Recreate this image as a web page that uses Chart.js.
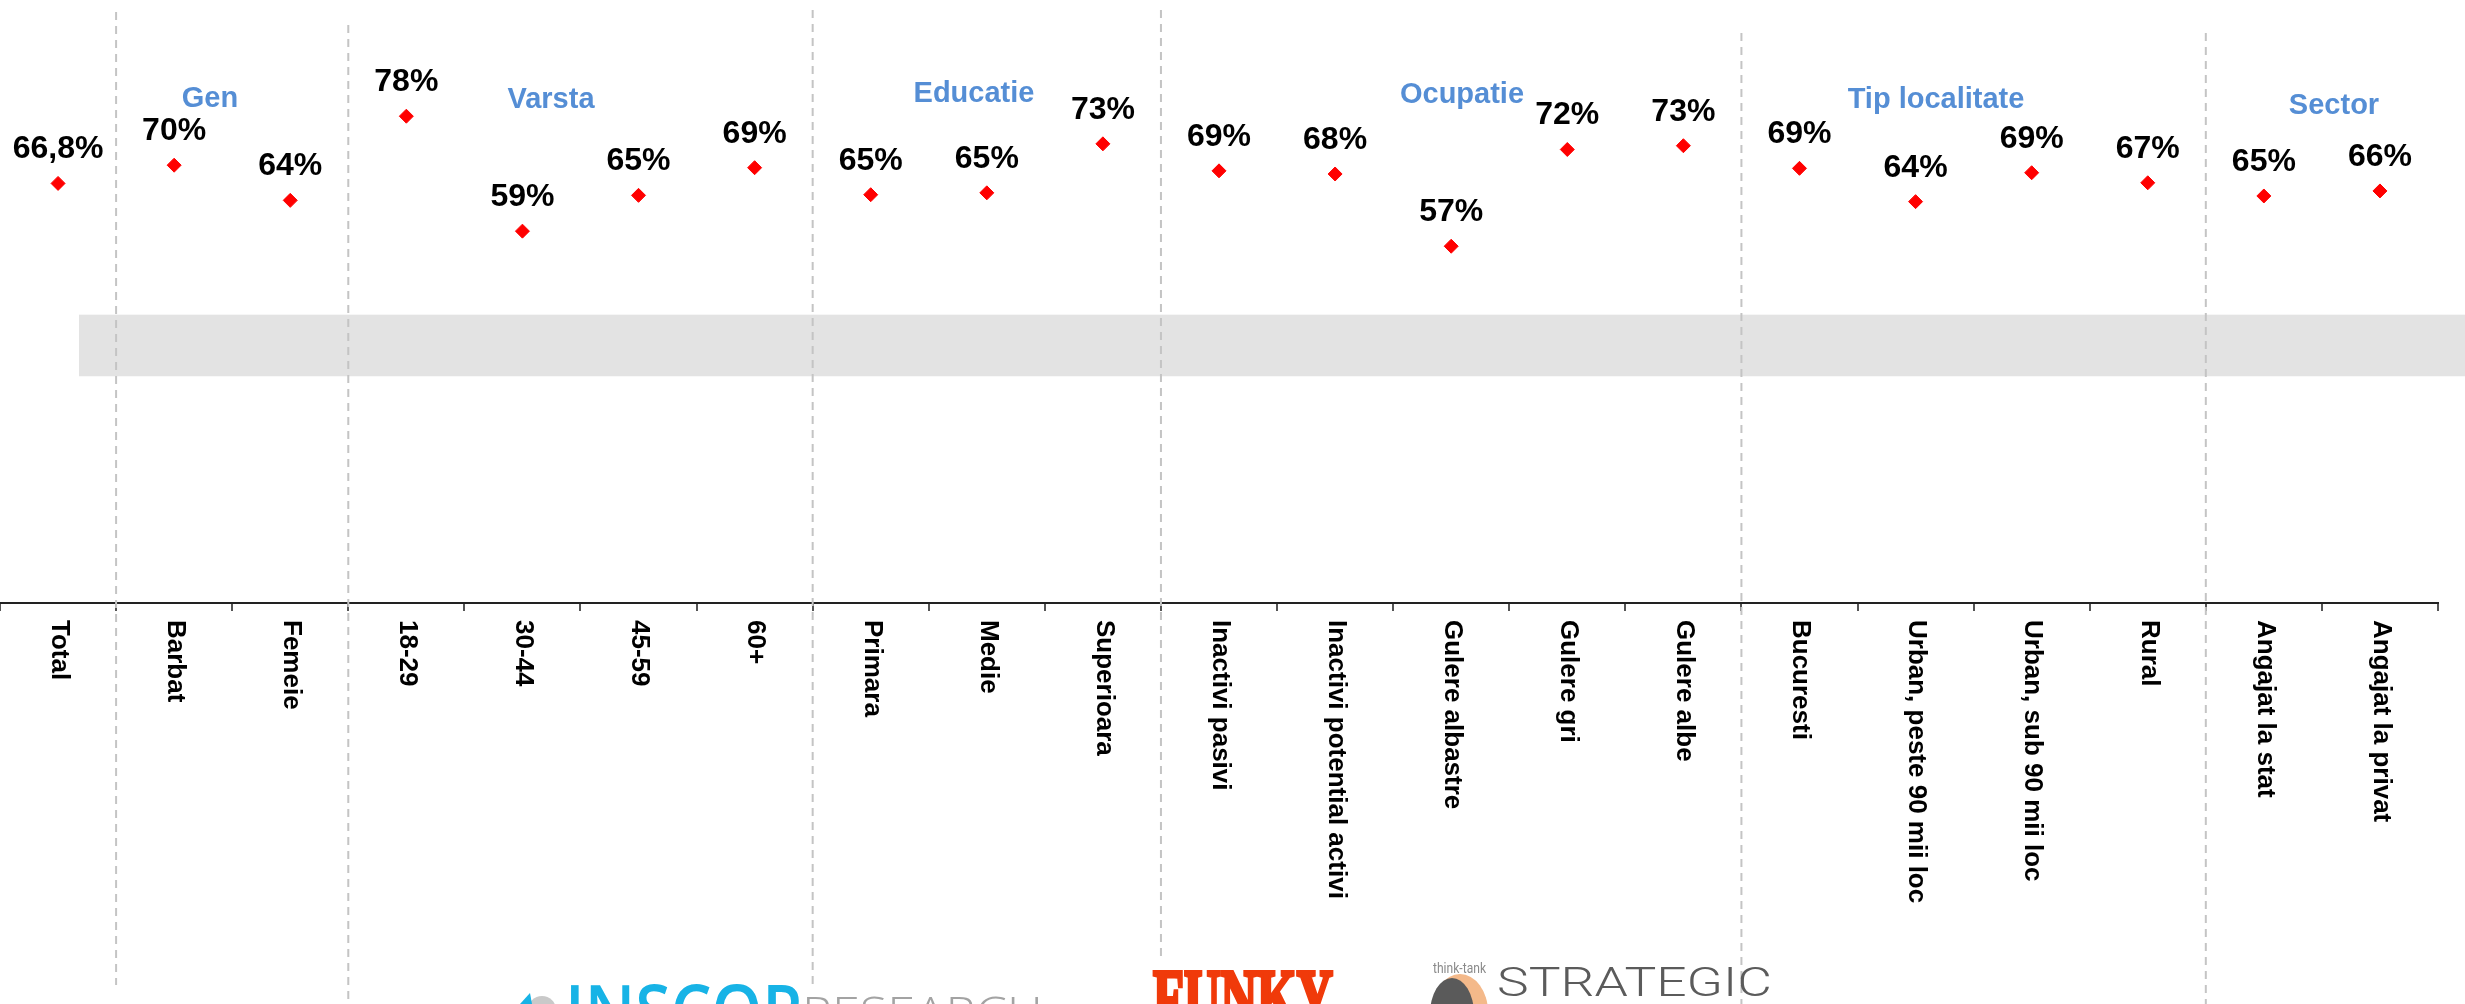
<!DOCTYPE html>
<html>
<head>
<meta charset="utf-8">
<script src="https://cdn.jsdelivr.net/npm/chart.js@4.4.0/dist/chart.umd.min.js"></script>
<style>
  body { margin: 0; background: #fff; }
  #wrap { width: 2465px; height: 1004px; }
</style>
</head>
<body>
<div id="wrap"><canvas id="myChart" width="2465" height="1004"></canvas></div>
<script>
/* date */
const categorii = ['Total', 'Barbat', 'Femeie', '18-29', '30-44', '45-59', '60+', 'Primara', 'Medie', 'Superioara',
  'Inactivi pasivi', 'Inactivi potential activi', 'Gulere albastre', 'Gulere gri', 'Gulere albe',
  'Bucuresti', 'Urban, peste 90 mii loc', 'Urban, sub 90 mii loc', 'Rural', 'Angajat la stat', 'Angajat la privat'];
const valori = [66.8, 69.7, 64.1, 77.5, 59.2, 64.9, 69.3, 65.0, 65.3, 73.1,
  68.8, 68.3, 56.8, 72.2, 72.8, 69.2, 63.9, 68.5, 66.9, 64.8, 65.6];
const etichete = ['66,8%', '70%', '64%', '78%', '59%', '65%', '69%', '65%', '65%', '73%',
  '69%', '68%', '57%', '72%', '73%', '69%', '64%', '69%', '67%', '65%', '66%'];
const grupe = ['Gen', 'Varsta', 'Educatie', 'Ocupatie', 'Tip localitate', 'Sector'];
const inceputGrup = [1, 3, 7, 10, 15, 19]; // prima categorie dupa fiecare separator

/* asezare (pixeli) */
const grupePoz = [[210, 107], [551, 108], [974, 102], [1462, 103], [1936, 108], [2334, 114]];
const sepCapete = [[12, 985], [25, 1004], [10, 985], [10, 962], [33, 1004], [33, 1004]];
const banda = [36.1, 45.9]; // banda gri, in unitatile axei y

const FONT = '"Liberation Sans", Arial, sans-serif';

function textLatime(ctx, text, font, color, left, baseline, width, contur) {
  ctx.save();
  ctx.font = font;
  ctx.fillStyle = color;
  ctx.textAlign = 'left';
  ctx.textBaseline = 'alphabetic';
  const w = ctx.measureText(text).width;
  ctx.translate(left, baseline);
  ctx.scale(width / w, 1);
  ctx.fillText(text, 0, 0);
  if (contur) {
    ctx.strokeStyle = color;
    ctx.lineWidth = contur;
    ctx.strokeText(text, 0, 0);
  }
  ctx.restore();
}

const decor = {
  id: 'decor',
  beforeDatasetsDraw(chart) {
    const ctx = chart.ctx, x = chart.scales.x, y = chart.scales.y;
    ctx.save();
    // banda gri
    const t = y.getPixelForValue(banda[1]), b = y.getPixelForValue(banda[0]);
    ctx.fillStyle = '#e3e3e3';
    ctx.fillRect(79, t, chart.width - 79, b - t);
    // separatoare punctate
    ctx.strokeStyle = '#c4c4c4';
    ctx.lineWidth = 2;
    ctx.setLineDash([8, 6]);
    inceputGrup.forEach((idx, k) => {
      const px = (x.getPixelForValue(idx - 1) + x.getPixelForValue(idx)) / 2;
      ctx.beginPath();
      ctx.moveTo(px, sepCapete[k][0]);
      ctx.lineTo(px, sepCapete[k][1]);
      ctx.stroke();
    });
    ctx.restore();
  },
  afterDatasetsDraw(chart) {
    const ctx = chart.ctx, x = chart.scales.x;
    const meta = chart.getDatasetMeta(0);
    ctx.save();

    // etichete valori
    ctx.font = 'bold 32px ' + FONT;
    ctx.fillStyle = '#000';
    ctx.textAlign = 'center';
    ctx.textBaseline = 'alphabetic';
    meta.data.forEach((pt, i) => ctx.fillText(etichete[i], pt.x, pt.y - 25));

    // titluri grupe
    ctx.font = 'bold 29px ' + FONT;
    ctx.fillStyle = '#558ed5';
    grupe.forEach((g, k) => ctx.fillText(g, grupePoz[k][0], grupePoz[k][1]));

    // etichete axa x, rotite in sensul acelor de ceas
    ctx.font = 'bold 26px ' + FONT;
    ctx.fillStyle = '#000';
    ctx.textAlign = 'left';
    ctx.textBaseline = 'middle';
    categorii.forEach((c, i) => {
      ctx.save();
      ctx.translate(x.getPixelForValue(i) + 1, x.top + 17);
      ctx.rotate(Math.PI / 2);
      ctx.fillText(c, 0, 0);
      ctx.restore();
    });

    // logo-uri jos
    ctx.fillStyle = '#c9c9c9';
    ctx.beginPath(); ctx.arc(542, 1010, 14, 0, Math.PI * 2); ctx.fill();
    ctx.fillStyle = '#17b3e6';
    ctx.beginPath(); ctx.moveTo(520, 1004); ctx.lineTo(530, 993); ctx.lineTo(532, 1004); ctx.fill();
    textLatime(ctx, 'INSCOP', '600 72px "Open Sans", sans-serif', '#17b3e6', 565, 1037, 237);
    textLatime(ctx, 'RESEARCH', '300 44px "Open Sans", sans-serif', '#a3a3a3', 802, 1029, 241);
    textLatime(ctx, 'FUNKY', 'bold 80px "Liberation Serif", serif', '#f03a0a', 1153, 1025, 180, 4);
    textLatime(ctx, 'think-tank', '14px Roboto, sans-serif', '#8a8a8a', 1433, 973, 53);
    ctx.fillStyle = '#f4b98a';
    ctx.beginPath(); ctx.ellipse(1460, 1012, 28, 38, 0, 0, Math.PI * 2); ctx.fill();
    ctx.fillStyle = '#5a5a5a';
    ctx.beginPath(); ctx.ellipse(1452, 1014, 22, 36, 0, 0, Math.PI * 2); ctx.fill();
    textLatime(ctx, 'STRATEGIC', '300 40px Roboto, sans-serif', '#5b5b5b', 1497, 996, 275);

    ctx.restore();
  }
};

/* grafic */
const ctx = document.getElementById('myChart');
var config = {
  type: 'line',
  data: {
    labels: categorii,
    datasets: [{
      data: valori,
      showLine: false,
      pointStyle: 'rectRot',
      pointRadius: 7,
      pointHoverRadius: 7,
      pointBackgroundColor: '#ff0000',
      pointBorderColor: '#ff0000',
      pointBorderWidth: 1
    }]
  },
  options: {
    responsive: false,
    animation: false,
    events: [],
    layout: { autoPadding: false, padding: { top: 0, left: 0, right: 27, bottom: 393 } },
    plugins: {
      legend: { display: false },
      tooltip: { enabled: false }
    },
    scales: {
      x: {
        offset: true,
        grid: { offset: true, drawOnChartArea: false, drawTicks: true, tickLength: 8, color: '#555', lineWidth: 2 },
        border: { display: true, color: '#222', width: 2 },
        ticks: { display: false }
      },
      y: { display: false, min: 0, max: 96 }
    }
  },
  plugins: [decor]
};

var myChart = new Chart(ctx, config);
</script>
</body>
</html>
